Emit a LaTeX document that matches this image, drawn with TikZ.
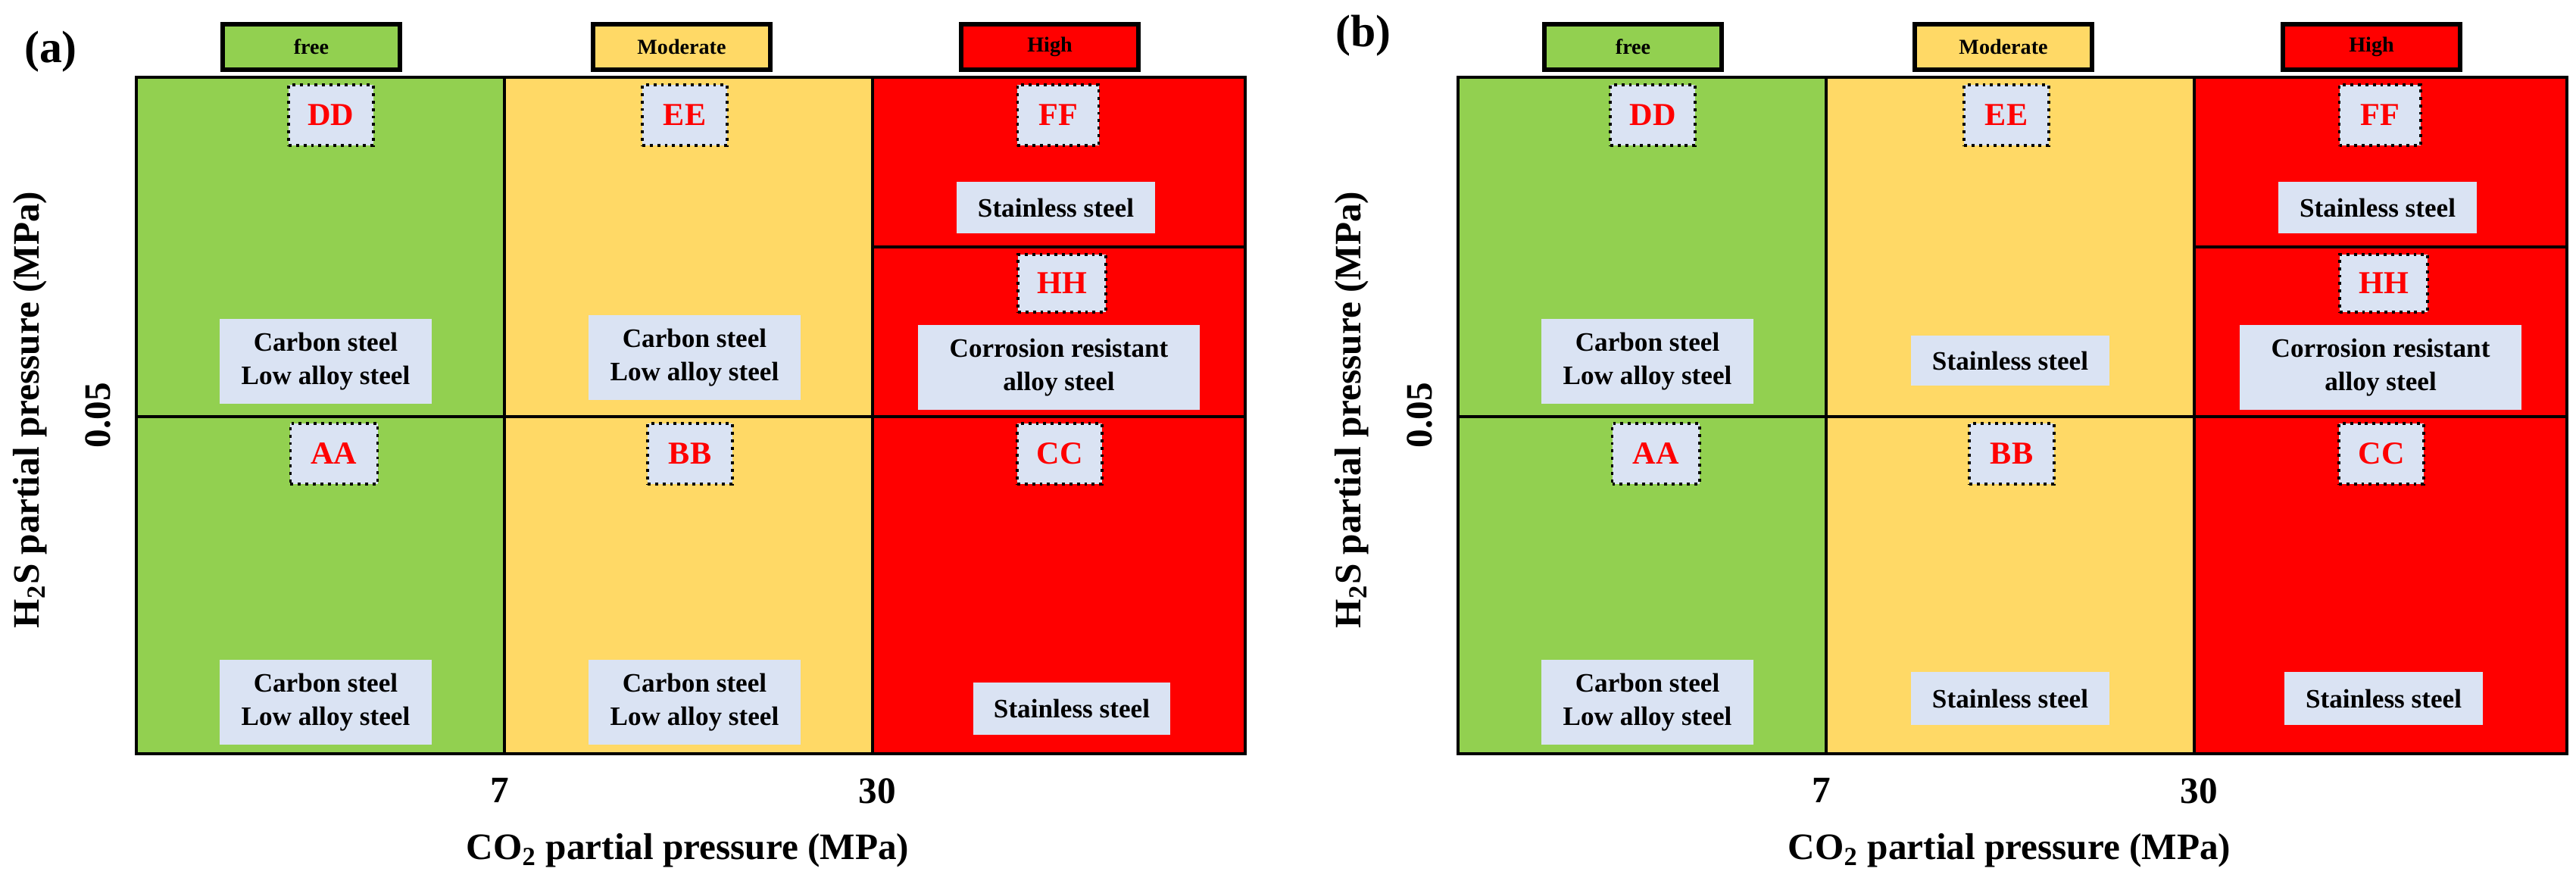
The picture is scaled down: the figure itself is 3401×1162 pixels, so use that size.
\documentclass[tikz,border=0pt]{standalone}
\usepackage{fontspec}
\setmainfont{Liberation Serif}
\definecolor{cgreen}{HTML}{92D050}
\definecolor{cyellow}{HTML}{FFD966}
\definecolor{cred}{HTML}{FF0000}
\definecolor{cbox}{HTML}{DAE3F3}
\tikzset{
 cell/.style={draw=black, line width=1.3pt},
 legendbox/.style={draw=black, line width=1.6pt, minimum width=23.4mm, minimum height=6mm, inner sep=0pt, font=\bfseries\fontsize{8}{9.6}\selectfont},
 tagbox/.style={draw=black, fill=cbox, line width=1.1pt, dash pattern=on 1.1pt off 1.7pt, minimum width=11.2mm, minimum height=8mm, inner sep=0pt, text=cred, font=\bfseries\fontsize{12}{14}\selectfont},
 matbox/.style={fill=cbox, inner sep=0pt, align=center, font=\bfseries\fontsize{10}{12.3}\selectfont},
 matbig/.style={matbox, minimum width=28mm, minimum height=11.2mm},
 matsmall/.style={matbox, minimum width=26.2mm, minimum height=6.8mm},
 axislabel/.style={font=\bfseries\fontsize{14}{16}\selectfont, inner sep=0pt},
 panellabel/.style={font=\bfseries\fontsize{17}{20}\selectfont, inner sep=0pt},
}
\newcommand\riskpanel[2]{%
\begin{scope}[xshift=#2cm]
 % cells
 \fill[cgreen] (180,102) rectangle (666,995);
 \fill[cyellow] (666,102) rectangle (1152,995);
 \fill[cred] (1152,102) rectangle (1644,995);
 \draw[cell] (180,102) rectangle (1644,995);
 \draw[cell] (666,102) -- (666,995);
 \draw[cell] (1152,102) -- (1152,995);
 \draw[cell] (180,550) -- (1644,550);
 \draw[cell] (1152,326) -- (1644,326);
 % legend
 \node[legendbox, fill=cgreen] (#1-free) at (411,62) {free};
 \node[legendbox, fill=cyellow] (#1-mod) at (900,62) {Moderate};
 \node[legendbox, fill=cred] (#1-high) at (1386,62) {High};
 % tags
 \node[tagbox] (#1-DD) at (437,152) {DD};
 \node[tagbox] (#1-EE) at (904,152) {EE};
 \node[tagbox, minimum width=10.7mm] (#1-FF) at (1397,152) {FF};
 \node[tagbox, minimum width=11.6mm, minimum height=7.6mm] (#1-HH) at (1402,374) {HH};
 \node[tagbox, minimum width=11.5mm] (#1-AA) at (441,599) {AA};
 \node[tagbox] (#1-BB) at (911,599) {BB};
 \node[tagbox] (#1-CC) at (1399,599) {CC};
 % common material boxes
 \node[matbig] (#1-m1) at (430,477) {Carbon steel\\Low alloy steel};
 \node[matbig] (#1-m2) at (430,927) {Carbon steel\\Low alloy steel};
 \node[matsmall] (#1-m3) at (1394,274) {Stainless steel};
 \node[matbox, minimum width=37.1mm, minimum height=11.2mm] (#1-m4) at (1398,485) {Corrosion resistant\\alloy steel};
 % axes
 \node[axislabel] (#1-xlab) at (908,1123) {CO\textsubscript{2} partial pressure (MPa)};
 \node[axislabel, rotate=90] (#1-ylab) at (40,541) {H\textsubscript{2}S partial pressure (MPa)};
 \node[axislabel, rotate=90] (#1-y05) at (129,548) {0.05};
 \node[axislabel] (#1-x7) at (660,1043) {7};
 \node[axislabel] (#1-x30) at (1158,1044) {30};
\end{scope}}
\begin{document}
\begin{tikzpicture}[x=0.01cm, y=-0.01cm]
 \useasboundingbox (0,0) rectangle (3401,1162);
 \riskpanel{a}{0}
 \riskpanel{b}{17.44}
 \node[panellabel] (lab-a) at (67,68) {(a)};
 \node[panellabel] (lab-b) at (1800,47) {(b)};
 % panel (a) specific
 \node[matbig] (a-m5) at (917,472) {Carbon steel\\Low alloy steel};
 \node[matbig] (a-m6) at (917,927) {Carbon steel\\Low alloy steel};
 \node[matbox, minimum width=26mm, minimum height=6.9mm] (a-m7) at (1415,935) {Stainless steel};
 % panel (b) specific
 \node[matsmall, minimum height=6.6mm] (b-m5) at (2654,476) {Stainless steel};
 \node[matsmall, minimum height=7mm] (b-m6) at (2654,922) {Stainless steel};
 \node[matsmall, minimum height=7mm] (b-m7) at (3147,922) {Stainless steel};
\end{tikzpicture}
\end{document}
